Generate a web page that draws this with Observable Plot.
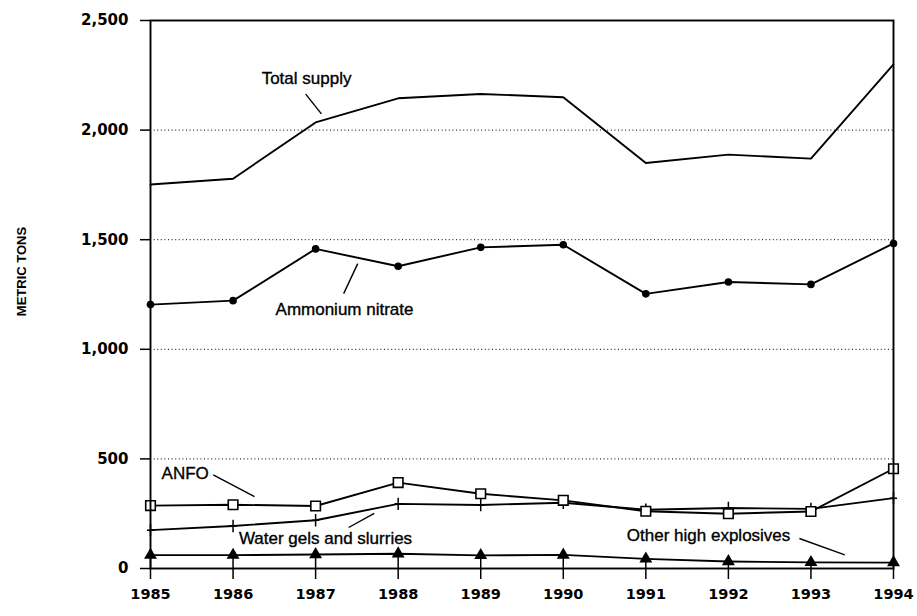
<!DOCTYPE html>
<html>
<head>
<meta charset="utf-8">
<script src="https://cdn.jsdelivr.net/npm/d3@7"></script>
<script src="https://cdn.jsdelivr.net/npm/@observablehq/plot@0.6"></script>
<style>
  html, body { margin: 0; padding: 0; background: #fff; }
  #chart { width: 917px; height: 616px; }
</style>
</head>
<body>
<div id="chart"></div>
<script>
// ---- data (metric tons) ----
const years = [1985, 1986, 1987, 1988, 1989, 1990, 1991, 1992, 1993, 1994];
const totalSupply     = [1752, 1778, 2035, 2145, 2165, 2150, 1850, 1888, 1870, 2300];
const ammoniumNitrate = [1204, 1222, 1458, 1379, 1465, 1477, 1253, 1307, 1296, 1483];
const anfo            = [287, 291, 285, 392, 341, 311, 261, 250, 260, 455];
const waterGels       = [175, 194, 220, 295, 290, 300, 268, 276, 272, 321];
const otherHigh       = [61, 61, 64, 67, 60, 62, 44, 32, 28, 27];
const yTicks = [0, 500, 1000, 1500, 2000, 2500];
const gridTicks = [500, 1000, 1500, 2000];

// annotation labels (data units: year, tons)
const labelText = ["Total supply", "Ammonium nitrate", "ANFO", "Water gels and slurries", "Other high explosives"];
const labelYear = [1986.89, 1987.35, 1985.42, 1987.12, 1991.76];
const labelTons = [2233, 1181, 435, 135, 152];
// leader lines (from, to) in data units
const leadX1 = [1986.88, 1987.51, 1985.76, 1987.40, 1992.86];
const leadY1 = [2164, 1391, 427, 187, 137];
const leadX2 = [1987.07, 1987.34, 1986.26, 1987.71, 1993.41];
const leadY2 = [2074, 1254, 328, 251, 62];

const rows = (vals) => years.map((yr, i) => ({year: yr, value: vals[i]}));
const labels = labelText.map((t, i) => ({text: t, x: labelYear[i], y: labelTons[i]}));
const leaders = labelText.map((t, i) => ({x1: leadX1[i], y1: leadY1[i], x2: leadX2[i], y2: leadY2[i]}));
const otherRows = rows(otherHigh);

// custom open plus symbol (taller than wide)
const plusSymbol = {
  draw(context, size) {
    const r = Math.sqrt(size) / 2;
    context.moveTo(-r * 0.8, 0); context.lineTo(r * 0.8, 0);
    context.moveTo(0, -r * 1.4); context.lineTo(0, r * 1.4);
  }
};

const lineStyle = {x: "year", y: "value", stroke: "#000", strokeWidth: 1.9};

const chart = Plot.plot({
  width: 917,
  height: 616,
  marginLeft: 150,
  marginRight: 24,
  marginTop: 20,
  marginBottom: 48,
  style: {fontFamily: "DejaVu Sans", background: "#fff", color: "#000"},
  x: {domain: [1985, 1994]},
  y: {domain: [0, 2500]},
  marks: [
    Plot.gridY(gridTicks, {stroke: "#000", strokeOpacity: 1, strokeWidth: 1, strokeDasharray: "1,2.6"}),
    Plot.axisY({ticks: yTicks, tickFormat: d3.format(","), tickSize: 10, tickPadding: 12,
      fontSize: 15, fontWeight: "bold", strokeWidth: 1.5, label: null}),
    Plot.axisX({ticks: years, tickFormat: d => String(d), tickSize: 11, tickPadding: 9,
      fontSize: 14.5, fontWeight: "bold", strokeWidth: 1.5, label: null}),
    Plot.text(["METRIC TONS"], {frameAnchor: "left", dx: -129, dy: -23, rotate: -90,
      textAnchor: "middle", fontWeight: "bold", fontSize: 13, fontFamily: "Liberation Sans"}),
    Plot.ruleX(otherRows, {x: "year", y1: 0, y2: "value", stroke: "#000", strokeWidth: 1.5}),
    Plot.line(rows(totalSupply), lineStyle),
    Plot.line(rows(ammoniumNitrate), lineStyle),
    Plot.line(rows(anfo), lineStyle),
    Plot.line(rows(waterGels), lineStyle),
    Plot.line(otherRows, lineStyle),
    Plot.dot(rows(ammoniumNitrate), {x: "year", y: "value", r: 3.8, fill: "#000", stroke: "none"}),
    Plot.dot(rows(waterGels), {x: "year", y: "value", r: 5, symbol: plusSymbol, fill: "none", stroke: "#000", strokeWidth: 1.5}),
    Plot.dot(rows(anfo), {x: "year", y: "value", r: 5.4, symbol: "square", fill: "#fff", stroke: "#000", strokeWidth: 1.6}),
    Plot.dot(otherRows, {x: "year", y: "value", r: 4.8, symbol: "triangle", fill: "#000", stroke: "none"}),
    Plot.link(leaders, {x1: "x1", y1: "y1", x2: "x2", y2: "y2", stroke: "#000", strokeWidth: 1.4}),
    Plot.text(labels, {x: "x", y: "y", text: "text", fontSize: 17, fontFamily: "Liberation Sans",
      fill: "#000", stroke: "#000", strokeWidth: 0.35}),
    Plot.frame({stroke: "#000", strokeWidth: 1.9})
  ]
});

document.getElementById("chart").appendChild(chart);
</script>
</body>
</html>
